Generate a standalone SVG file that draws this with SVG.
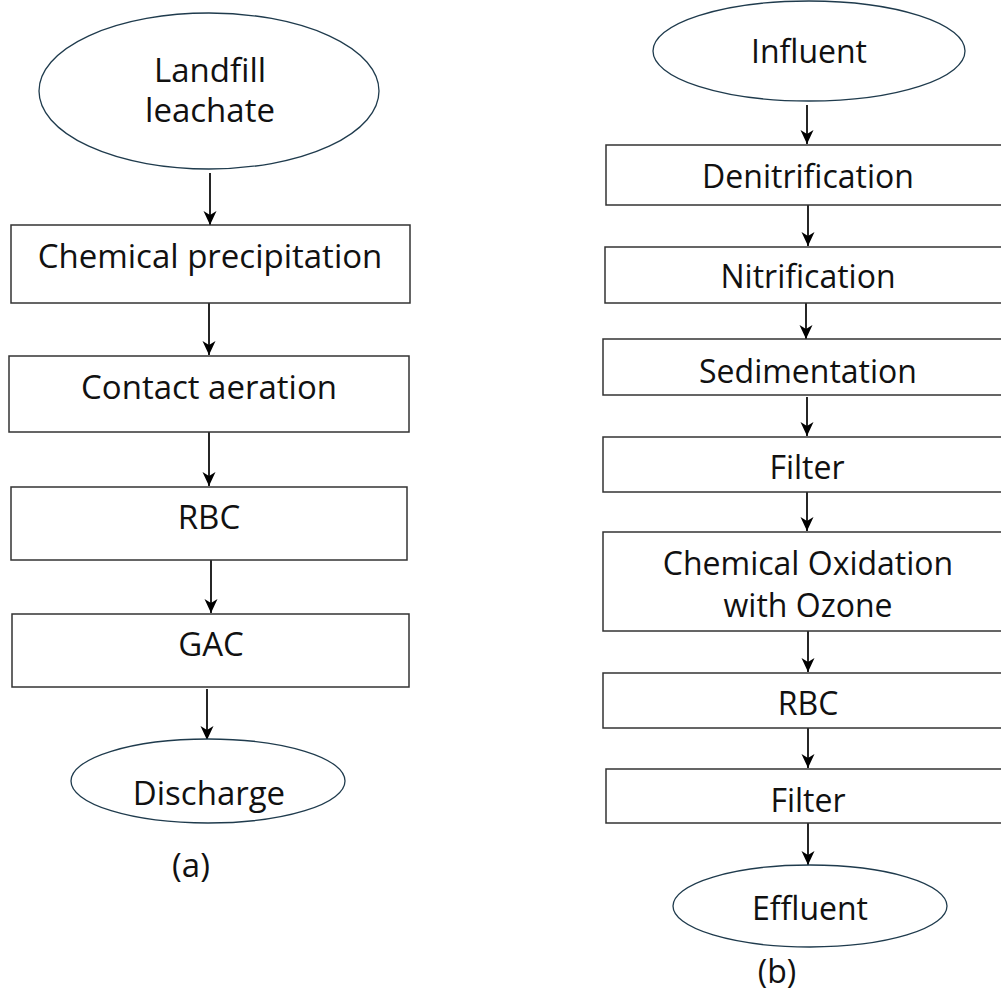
<svg xmlns="http://www.w3.org/2000/svg" width="1001" height="998" viewBox="0 0 1001 998">
<style>
.box{fill:#fff;stroke:#333;stroke-width:1.5}
.ell{fill:#fff;stroke:#1f3b4d;stroke-width:1.3}
.t{font-family:"Open Sans","Liberation Sans",sans-serif;font-size:32px;fill:#111;text-anchor:middle}
.l{font-size:33px}
.c{stroke:#000;stroke-width:1.7;fill:none;marker-end:url(#ah)}
</style>
<defs>
<marker id="ah" markerUnits="userSpaceOnUse" markerWidth="18" markerHeight="16" viewBox="-16 -8 18 16" refX="0" refY="0" orient="auto">
<path d="M-14,-6.5 L0,0 L-14,6.5 L-10,0 Z" fill="#000"/>
</marker>
</defs>
<rect width="1001" height="998" fill="#fff"/>
<g id="connectors">
<line class="c" x1="210" y1="173" x2="210" y2="225"/>
<line class="c" x1="209" y1="303" x2="209" y2="355"/>
<line class="c" x1="209" y1="432" x2="209" y2="486"/>
<line class="c" x1="211" y1="560" x2="211" y2="613"/>
<line class="c" x1="207" y1="689" x2="207" y2="740"/>
<line class="c" x1="807" y1="105" x2="807" y2="144"/>
<line class="c" x1="808" y1="205" x2="808" y2="246"/>
<line class="c" x1="806" y1="303" x2="806" y2="339"/>
<line class="c" x1="807" y1="397" x2="807" y2="436"/>
<line class="c" x1="807" y1="492" x2="807" y2="531"/>
<line class="c" x1="808" y1="631" x2="808" y2="672"/>
<line class="c" x1="808" y1="728" x2="808" y2="768"/>
<line class="c" x1="808" y1="823" x2="808" y2="865"/>
</g>
<g id="a-landfill"><ellipse class="ell" cx="209" cy="91" rx="170" ry="78"/><text class="t l" x="210" y="82">Landfill</text><text class="t l" x="210" y="122">leachate</text></g>
<g id="a-chemprec"><rect class="box" x="11" y="225" width="399" height="78"/><text class="t l" x="210" y="268">Chemical precipitation</text></g>
<g id="a-contact"><rect class="box" x="9" y="356" width="400" height="76"/><text class="t l" x="209" y="399">Contact aeration</text></g>
<g id="a-rbc"><rect class="box" x="11" y="487" width="396" height="73"/><text class="t l" x="209" y="529">RBC</text></g>
<g id="a-gac"><rect class="box" x="12" y="614" width="397" height="73"/><text class="t l" x="211" y="656">GAC</text></g>
<g id="a-discharge"><ellipse class="ell" cx="208" cy="781" rx="137" ry="42"/><text class="t l" x="209" y="805">Discharge</text></g>
<text class="t l" x="191" y="877">(a)</text>
<g id="b-influent"><ellipse class="ell" cx="809" cy="51" rx="156" ry="50"/><text class="t" x="809" y="63">Influent</text></g>
<g id="b-denit"><rect class="box" x="606" y="145" width="410" height="60"/><text class="t" x="808" y="188">Denitrification</text></g>
<g id="b-nit"><rect class="box" x="605" y="247" width="410" height="56"/><text class="t" x="808" y="288">Nitrification</text></g>
<g id="b-sed"><rect class="box" x="603" y="339" width="410" height="56"/><text class="t" x="808" y="383">Sedimentation</text></g>
<g id="b-filter1"><rect class="box" x="603" y="437" width="410" height="55"/><text class="t" x="807" y="479">Filter</text></g>
<g id="b-chemox"><rect class="box" x="603" y="532" width="410" height="99"/><text class="t" x="808" y="575">Chemical Oxidation</text><text class="t" x="808" y="617">with Ozone</text></g>
<g id="b-rbc"><rect class="box" x="603" y="673" width="410" height="55"/><text class="t" x="808" y="715">RBC</text></g>
<g id="b-filter2"><rect class="box" x="606" y="769" width="410" height="54"/><text class="t" x="808" y="812">Filter</text></g>
<g id="b-effluent"><ellipse class="ell" cx="810" cy="906" rx="137" ry="41"/><text class="t" x="810" y="920">Effluent</text></g>
<text class="t" x="777" y="983">(b)</text>
</svg>
